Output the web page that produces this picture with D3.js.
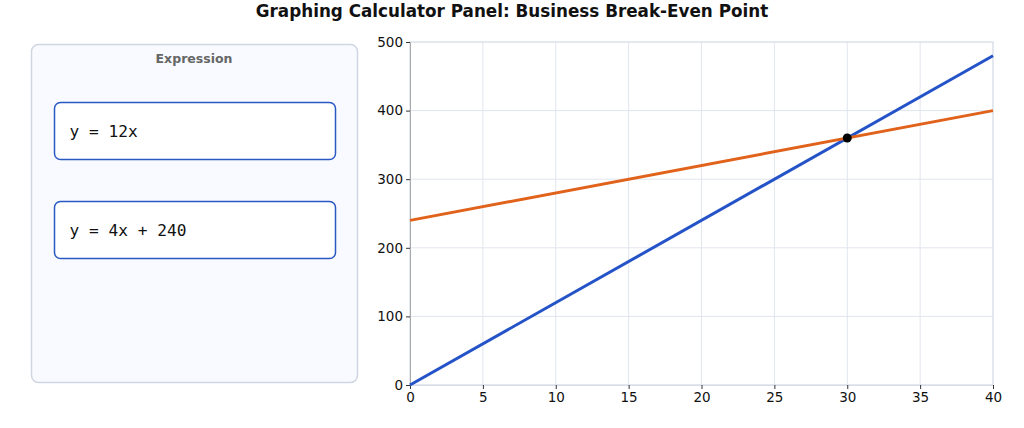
<!DOCTYPE html>
<html>
<head>
<meta charset="utf-8">
<script src="https://cdn.jsdelivr.net/npm/d3@7"></script>
<style>
  body { margin: 0; background: #fff; }
  .axis text { font-size: 13.5px; font-family: "DejaVu Sans", sans-serif; fill: #111; }
</style>
</head>
<body>
<div id="chart-area"></div>
<script>
// data
var expressions = ["y = 12x", "y = 4x + 240"];
var xValues = [0, 40];
var revenue = [0, 480];      // y = 12x
var cost = [240, 400];       // y = 4x + 240
var breakEven = [30, 360];
var xTicks = [0, 5, 10, 15, 20, 25, 30, 35, 40];
var yTicks = [0, 100, 200, 300, 400, 500];

var W = 1024, H = 428;
var margin = {left: 410, right: 31, top: 42, bottom: 43};
var width = W - margin.left - margin.right;
var height = H - margin.top - margin.bottom;

var svg = d3.select("#chart-area").append("svg")
    .attr("width", W)
    .attr("height", H)
    .style("font-family", "'DejaVu Sans', sans-serif");

// title
svg.append("text")
    .attr("x", W / 2)
    .attr("y", 17)
    .attr("text-anchor", "middle")
    .style("font-size", "16.8px")
    .style("font-weight", "bold")
    .attr("fill", "#111")
    .text("Graphing Calculator Panel: Business Break-Even Point");

// expression panel
var panel = svg.append("g");
panel.append("rect")
    .attr("x", 31.5).attr("y", 44.5)
    .attr("width", 326).attr("height", 338)
    .attr("rx", 7)
    .attr("fill", "#f8faff")
    .attr("stroke", "#cfd6e2")
    .attr("stroke-width", 1.5);

panel.append("text")
    .attr("x", 194)
    .attr("y", 63)
    .attr("text-anchor", "middle")
    .style("font-size", "12.5px")
    .style("font-weight", "bold")
    .attr("fill", "#666")
    .text("Expression");

var boxes = panel.selectAll("g.expr")
    .data(expressions)
    .enter()
    .append("g")
    .attr("class", "expr")
    .attr("transform", (d, i) => "translate(54.5," + (102.5 + i * 99) + ")");

boxes.append("rect")
    .attr("width", 281).attr("height", 57)
    .attr("rx", 6)
    .attr("fill", "#fff")
    .attr("stroke", "#2b59c3")
    .attr("stroke-width", 1.5);

boxes.append("text")
    .attr("x", 15)
    .attr("y", 34)
    .style("font-family", "'DejaVu Sans Mono', monospace")
    .style("font-size", "16.2px")
    .attr("fill", "#111")
    .text((d) => d);

// graph
var g = svg.append("g")
    .attr("transform", "translate(" + margin.left + "," + margin.top + ")");

var x = d3.scaleLinear().domain([0, 40]).range([0, width]);
var y = d3.scaleLinear().domain([0, 500]).range([height, 0]);

// grid
g.append("g").selectAll("line")
    .data(xTicks)
    .enter().append("line")
    .attr("x1", (d) => x(d)).attr("x2", (d) => x(d))
    .attr("y1", 0).attr("y2", height)
    .attr("stroke", "#e1e5ee")
    .attr("stroke-width", 1);

g.append("g").selectAll("line")
    .data(yTicks)
    .enter().append("line")
    .attr("x1", 0).attr("x2", width)
    .attr("y1", (d) => y(d)).attr("y2", (d) => y(d))
    .attr("stroke", "#e1e5ee")
    .attr("stroke-width", 1);

// frame
g.append("rect")
    .attr("width", width).attr("height", height)
    .attr("fill", "none")
    .attr("stroke", "#d8dde8");

var xAxisCall = d3.axisBottom(x).tickValues(xTicks).tickSize(4).tickPadding(3);
var xAxis = g.append("g")
    .attr("class", "x axis")
    .attr("transform", "translate(0," + height + ")")
    .call(xAxisCall);

var yAxisCall = d3.axisLeft(y).tickValues(yTicks).tickSize(4).tickPadding(3);
var yAxis = g.append("g")
    .attr("class", "y axis")
    .call(yAxisCall);

xAxis.select(".domain").attr("stroke", "#d8dde8");
yAxis.select(".domain").attr("stroke", "#aaa");
xAxis.selectAll(".tick line").attr("stroke", "#333");
yAxis.selectAll(".tick line").attr("stroke", "#333");

// lines
var line = d3.line()
    .x((d) => x(d[0]))
    .y((d) => y(d[1]));

var series = [
    {values: revenue, color: "#2453c8"},
    {values: cost, color: "#e0621b"}
];

g.selectAll("path.series")
    .data(series)
    .enter()
    .append("path")
    .attr("class", "series")
    .attr("d", (s) => line(xValues.map((v, i) => [v, s.values[i]])))
    .attr("fill", "none")
    .attr("stroke", (s) => s.color)
    .attr("stroke-width", 3);

g.append("circle")
    .attr("cx", x(breakEven[0]))
    .attr("cy", y(breakEven[1]))
    .attr("r", 4.5)
    .attr("fill", "#000");
</script>
</body>
</html>
